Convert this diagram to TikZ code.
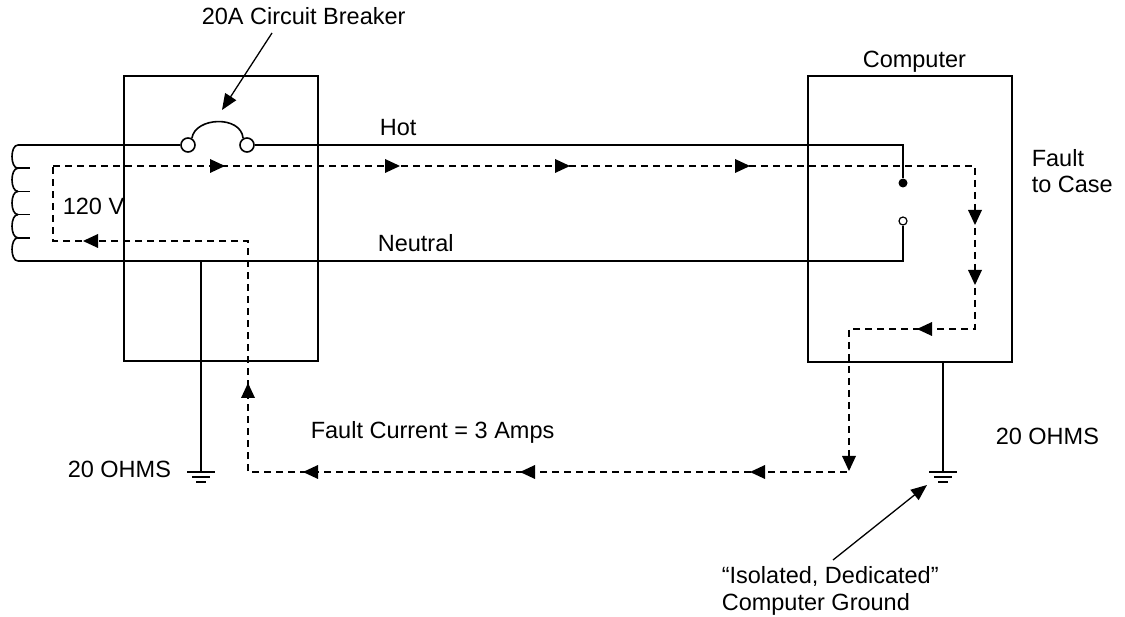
\documentclass[tikz,border=0pt]{standalone}
\usepackage{fontspec}
\setmainfont{Liberation Sans}
\usetikzlibrary{arrows.meta}

\newcommand{\gndsym}[1]{\draw[line width=1.3pt] (#1) ++(-14,0) -- ++(28,0) ++(-23,5) -- ++(18,0) ++(-14,5) -- ++(10,0);}

\begin{document}
\begin{tikzpicture}[x=1pt,y=-1pt,line width=1.6pt,
    fault/.style={line width=1.6pt,dash pattern=on 7pt off 5pt},
    lbl/.style={anchor=base west,inner sep=0pt,font=\fontsize{23.5}{28}\selectfont},
    pointer/.style={line width=1.3pt,-{Triangle[length=16pt,width=13pt]}},
    contact/.style={circle,inner sep=0pt,minimum size=14pt,draw,fill=white}]
  \useasboundingbox (0,0) rectangle (1125,617);

  % panel and computer case
  \draw[line width=1.4pt] (124,76) rectangle (318,361);
  \draw[line width=1.4pt] (808,76) rectangle (1012,362);

  % transformer coil
  \foreach \i in {0,...,4}
    \draw (18,{145+23.2*\i}) .. controls (10,{145+23.2*\i}) and (10,{168.2+23.2*\i}) .. (18,{168.2+23.2*\i});
  \foreach \i in {1,...,4}
    \draw (18,{145+23.2*\i}) -- (30,{145+23.2*\i});

  % breaker
  \node[contact] (cbL) at (188,145) {};
  \node[contact] (cbR) at (247,145) {};
  \draw (cbL.60) .. controls (195,117) and (241,115) .. (cbR.120);

  % hot and neutral
  \coordinate (coilTop) at (18,145);
  \coordinate (coilBot) at (18,261);
  \coordinate (hotEnd) at (903,145);
  \coordinate (neutEnd) at (903,261);
  \node[circle,fill,inner sep=0pt,minimum size=9pt] (caseDot) at (903,183) {};
  \node[circle,draw,fill=white,line width=1.2pt,inner sep=0pt,minimum size=8pt] (neutDot) at (903,221) {};
  \draw (coilTop) -- (cbL);
  \draw (cbR) -- (hotEnd) -- (caseDot);
  \draw (neutDot) -- (neutEnd) -- (coilBot);

  % grounds
  \coordinate (gndL) at (201,472);
  \coordinate (gndR) at (943,472);
  \draw (201,261) -- (gndL);
  \draw (943,362) -- (gndR);
  \gndsym{gndL}
  \gndsym{gndR}

  % fault current path
  \coordinate (f1) at (53,166);
  \coordinate (f2) at (975,166);
  \coordinate (f3) at (975,329);
  \coordinate (f4) at (849,329);
  \coordinate (f5) at (849,472);
  \coordinate (f6) at (248,472);
  \coordinate (f7) at (248,241);
  \coordinate (f8) at (53,241);
  \draw[fault] (f1) -- (f2) -- (f3) -- (f4) -- (f5) -- (f6) -- (f7) -- (f8) -- cycle;
  \foreach \x in {225,400,570,750}
    \fill (\x,166) -- ++(-15,-7) -- ++(0,14) -- cycle;
  \foreach \y in {225,285}
    \fill (975,\y) -- ++(-7,-15) -- ++(14,0) -- cycle;
  \fill (917,329) -- ++(15,-7) -- ++(0,14) -- cycle;
  \fill (849,471) -- ++(-7,-15) -- ++(14,0) -- cycle;
  \foreach \x in {303,520,750}
    \fill (\x,472) -- ++(15,-7) -- ++(0,14) -- cycle;
  \fill (248,383) -- ++(-7,15) -- ++(14,0) -- cycle;
  \fill (83,241) -- ++(15,-7) -- ++(0,14) -- cycle;

  % labels
  \node[lbl] (cbLbl) at (201,25) {20A Circuit Breaker};
  \node[lbl] (compLbl) at (862,68) {Computer};
  \node[lbl] (hotLbl) at (379,136) {Hot};
  \node[lbl] (neutLbl) at (377,252) {Neutral};
  \node[lbl] (voltLbl) at (62,215) {120 V};
  \node[lbl] (faultLbl) at (1031,167) {Fault};
  \node[lbl] (caseLbl) at (1031,193) {to Case};
  \node[lbl] (ampLbl) at (310,439) {Fault Current = 3 Amps};
  \node[lbl] (ohmL) at (67,478) {20 OHMS};
  \node[lbl] (ohmR) at (995,445) {20 OHMS};
  \node[lbl] (isoLbl) at (721,583) {“Isolated, Dedicated”};
  \node[lbl] (cgLbl) at (721,610) {Computer Ground};

  % pointers
  \coordinate (cbFrom) at (272,33);
  \coordinate (cbTo) at (222,110);
  \coordinate (cgFrom) at (833,560);
  \coordinate (cgTo) at (927,485);
  \draw[pointer] (cbFrom) -- (cbTo);
  \draw[pointer] (cgFrom) -- (cgTo);
\end{tikzpicture}
\end{document}
